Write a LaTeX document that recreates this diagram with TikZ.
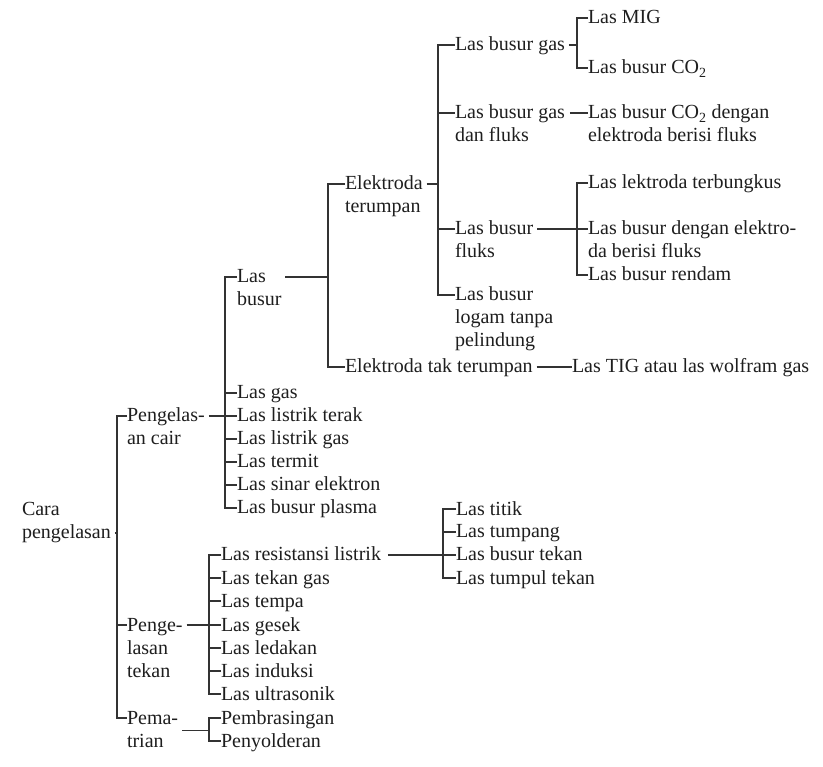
\documentclass[tikz,border=0pt]{standalone}
\usepackage{fontspec}
\setmainfont{Liberation Serif}
\newcommand\mlines[1]{\begin{tabular}[t]{@{}l@{}}#1\end{tabular}}
\newcommand\tn[4]{%
  \node[lbl] (#1) at (#2,#3+6) {\mlines{#4}};
  \coordinate (#1-w) at ([yshift=6pt]#1.base west);
  \coordinate (#1-e) at ([yshift=6pt]#1.base east);}
\newcommand\brk[3]{\draw[conn] (#2-w) -- (#1 |- #2-w) -- (#1 |- #3-w) -- (#3-w);}
\newcommand\tck[2]{\draw[conn] (#1 |- #2-w) -- (#2-w);}
\newcommand\plink[2]{\draw[conn] ([xshift=4pt]#2) -- (#1 |- #2);}
\definecolor{ink}{HTML}{1E1E1E}
\definecolor{wire}{HTML}{333333}
\begin{document}
\begin{tikzpicture}[x=1pt,y=-1pt,
  lbl/.style={anchor=base west,inner sep=0pt,outer sep=0pt,text=ink,
    font=\fontsize{20}{23}\selectfont},
  conn/.style={draw=wire,line width=1.1pt}]
\useasboundingbox[fill=white] (0,0) rectangle (823,767);
% bracket x positions
\coordinate (bA) at (117,0);
\coordinate (bC) at (225,0);
\coordinate (bT) at (209,0);
\coordinate (bD) at (328,0);
\coordinate (bE) at (438,0);
\coordinate (bF) at (577,0);
\coordinate (bR) at (443,0);
% nodes
\tn{cara}{22}{510}{Cara\\pengelasan}
\coordinate (cara-e2) at ([yshift=-17pt]cara.base east);
\tn{pcair}{127}{416}{Pengelas-\\an cair}
\tn{ptekan}{127}{625}{Penge-\\lasan\\tekan}
\tn{pema}{127}{718}{Pema-\\trian}
\tn{lbusur}{237}{277}{Las\\busur}
\tn{lgas}{237}{393}{Las gas}
\tn{llt}{237}{416}{Las listrik terak}
\tn{llg}{237}{439}{Las listrik gas}
\tn{lterm}{237}{462}{Las termit}
\tn{lse}{237}{485}{Las sinar elektron}
\tn{lbp}{237}{508}{Las busur plasma}
\tn{lrl}{221}{555}{Las resistansi listrik}
\tn{ltg}{221}{578}{Las tekan gas}
\tn{ltempa}{221}{601}{Las tempa}
\tn{lgesek}{221}{625}{Las gesek}
\tn{lled}{221}{648}{Las ledakan}
\tn{lind}{221}{671}{Las induksi}
\tn{lultra}{221}{694}{Las ultrasonik}
\tn{pemb}{221}{718}{Pembrasingan}
\tn{peny}{221}{741}{Penyolderan}
\tn{ltitik}{456}{509}{Las titik}
\tn{ltump}{456}{532}{Las tumpang}
\tn{lbt}{456}{555}{Las busur tekan}
\tn{ltt}{456}{578}{Las tumpul tekan}
\tn{etr}{345}{184}{Elektroda\\terumpan}
\tn{ett}{345}{367}{Elektroda tak terumpan}
\tn{tig}{572}{367}{Las TIG atau las wolfram gas}
\tn{lbg}{455}{45}{Las busur gas}
\tn{lbgdf}{455}{113}{Las busur gas\\dan fluks}
\tn{lbf}{455}{229}{Las busur\\fluks}
\tn{lbl}{455}{295}{Las busur\\logam tanpa\\pelindung}
\tn{lmig}{588}{18}{Las MIG}
\tn{lco}{588}{68}{Las busur CO\textsubscript{2}}
\tn{lcof}{588}{113}{Las busur CO\textsubscript{2} dengan\\elektroda berisi fluks}
\tn{llek}{588}{183}{Las lektroda terbungkus}
\tn{lbde}{588}{229}{Las busur dengan elektro-\\da berisi fluks}
\tn{lbr}{588}{275}{Las busur rendam}
% connectors
\plink{bA}{cara-e2}
\brk{bA}{pcair}{pema}
\tck{bA}{ptekan}
\plink{bC}{pcair-e}
\brk{bC}{lbusur}{lbp}
\foreach \n in {lgas,llt,llg,lterm,lse}{\tck{bC}{\n}}
\draw[conn] ([xshift=4pt]ptekan-e) -- (bT |- ptekan-e);
\brk{bT}{lrl}{lultra}
\foreach \n in {ltg,ltempa,lgesek,lled,lind}{\tck{bT}{\n}}
\draw[conn] ([xshift=4pt]pema.east) -- (bT |- pema.east);
\brk{bT}{pemb}{peny}
\draw[conn] ([xshift=7pt]lrl-e) -- (bR |- lrl-e);
\brk{bR}{ltitik}{ltt}
\foreach \n in {ltump,lbt}{\tck{bR}{\n}}
\draw[conn] ([xshift=4pt]lbusur-e) -- (bD |- lbusur-e);
\brk{bD}{etr}{ett}
\plink{bE}{etr-e}
\brk{bE}{lbg}{lbl}
\foreach \n in {lbgdf,lbf}{\tck{bE}{\n}}
\draw[conn] ([xshift=4pt]ett-e) -- (tig-w);
\plink{bF}{lbg-e}
\brk{bF}{lmig}{lco}
\draw[conn] ([xshift=5pt]lbgdf-e) -- (lcof-w);
\plink{bF}{lbf-e}
\brk{bF}{llek}{lbr}
\tck{bF}{lbde}
\end{tikzpicture}
\end{document}
